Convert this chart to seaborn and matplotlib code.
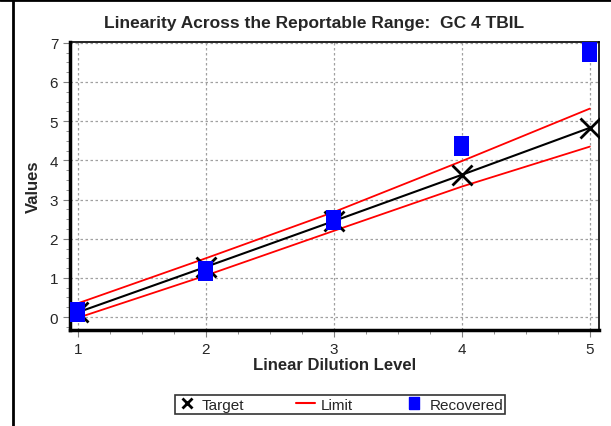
import numpy as np
import pandas as pd
import matplotlib
matplotlib.use("Agg")
import matplotlib.pyplot as plt
import seaborn as sns
from matplotlib.ticker import MultipleLocator
from matplotlib.lines import Line2D

levels = [1, 2, 3, 4, 5]
target = [0.12, 1.28, 2.45, 3.63, 4.83]
upper_limit = [0.35, 1.50, 2.68, 3.98, 5.32]
lower_limit = [-0.02, 1.06, 2.20, 3.33, 4.35]
recovered = [0.13, 1.17, 2.48, 4.36, 6.77]

df = pd.DataFrame({"level": levels, "target": target, "upper": upper_limit,
                   "lower": lower_limit, "recovered": recovered})

sns.set_style("white")
plt.rcParams['font.family'] = ['Liberation Sans', 'DejaVu Sans']

fig = plt.figure(figsize=(6.11, 4.27), dpi=100)
ax = fig.add_axes([0.1146, 0.2248, 0.8654, 0.6745])

sns.lineplot(data=df, x="level", y="upper", color="red", lw=1.3, ax=ax)
sns.lineplot(data=df, x="level", y="lower", color="red", lw=1.3, ax=ax)
sns.lineplot(data=df, x="level", y="target", color="black", lw=1.5, ax=ax)
ax.plot(df["level"], df["target"], ls="none", marker="x", ms=14, mew=2, color="black")
rect = [(-0.75, -1), (0.75, -1), (0.75, 1), (-0.75, 1), (-0.75, -1)]
sns.scatterplot(data=df, x="level", y="recovered", marker=rect, s=210,
                color="blue", edgecolor="none", ax=ax, zorder=5)

ax.set_xlim(0.94, 5.07)
ax.set_ylim(-0.33, 7.02)
ax.xaxis.set_major_locator(MultipleLocator(1))
ax.xaxis.set_minor_locator(MultipleLocator(0.25))
ax.yaxis.set_major_locator(MultipleLocator(1))
ax.yaxis.set_minor_locator(MultipleLocator(0.25))
ax.grid(True, which="major", ls=(0, (2, 2)), color="#a0a0a0", lw=0.9)
ax.tick_params(which="major", direction="out", length=5, color="#808080",
               labelsize=11, bottom=True, left=True)
ax.tick_params(which="minor", direction="out", length=3, color="#808080",
               bottom=True, left=True)
for s in ["left", "bottom"]:
    ax.spines[s].set_linewidth(2.5)
    ax.spines[s].set_color("black")
for s in ["top", "right"]:
    ax.spines[s].set_linewidth(1.2)
    ax.spines[s].set_color("black")

ax.set_xlabel("Linear Dilution Level", fontsize=12, fontweight="bold", labelpad=1)
ax.set_ylabel("Values", fontsize=12, fontweight="bold", labelpad=6)
fig.text(0.514, 0.945, "Linearity Across the Reportable Range:  GC 4 TBIL",
         fontsize=12.5, fontweight="bold", ha="center", va="center")

handles = [Line2D([], [], ls="none", marker="x", color="black", mew=2, ms=7),
           Line2D([], [], color="red", lw=1.5),
           Line2D([], [], ls="none", marker=rect, color="blue", ms=9)]
leg = fig.legend(handles, ["Target", "Limit", "Recovered"], loc="center",
                 bbox_to_anchor=(0.557, 0.05), ncol=3, fontsize=11,
                 frameon=True, fancybox=False, edgecolor="black",
                 handlelength=1.2, handletextpad=0.4, columnspacing=3.4,
                 borderpad=0.15)
leg.get_frame().set_linewidth(1.2)

fig.add_artist(Line2D([0.022, 0.022], [0, 1], color="black", lw=2, transform=fig.transFigure))
fig.add_artist(Line2D([0, 1], [0.997, 0.997], color="black", lw=2, transform=fig.transFigure))

fig.savefig("out.png", dpi=100)
